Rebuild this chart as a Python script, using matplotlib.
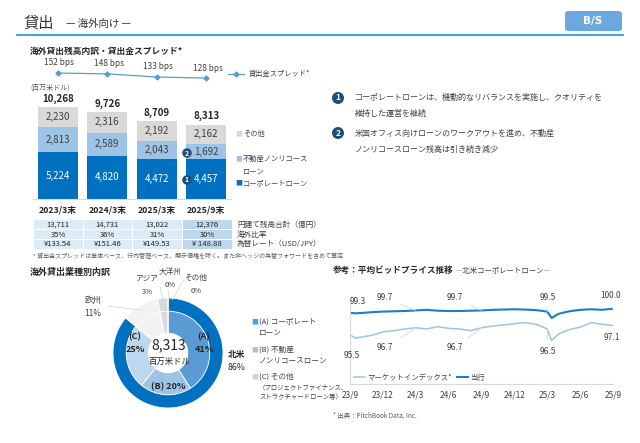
import matplotlib
matplotlib.use('Agg')
import matplotlib.pyplot as plt
from matplotlib.patches import Rectangle, FancyBboxPatch
from matplotlib.lines import Line2D

plt.rcParams['font.family'] = ['Noto Sans CJK JP', 'DejaVu Sans']

W, H = 640, 443

# ---- data: outstanding balance by category (million USD) ----
periods = ['2023/3末', '2024/3末', '2025/3末', '2025/9末']
corporate = [5224, 4820, 4472, 4457]
real_estate = [2813, 2589, 2043, 1692]
other = [2230, 2316, 2192, 2162]
totals = [10268, 9726, 8709, 8313]
spread_bps = [152, 148, 133, 128]

# table rows under the bars
yen_total = ['13,711', '14,731', '13,022', '12,376']
overseas_ratio = ['35%', '36%', '31%', '30%']
fx_rate = ['¥133.54', '¥151.46', '¥149.53', '¥ 148.88']
row_labels = ['円建て残高合計（億円）', '海外比率', '為替レート（USD/JPY）']

# ---- data: donut ----
region_labels = ['北米', '欧州', 'アジア', '大洋州', 'その他']
region_share = [86, 11, 3, 0, 0]
type_labels = ['(A)', '(B)', '(C)']
type_share = [41, 20, 25]

# ---- data: average bid price (months from 2023/9) ----
month_ticks = ['23/9', '23/12', '24/3', '24/6', '24/9', '24/12', '25/3', '25/6', '25/9']
bid_month = [0, 0.5, 1, 2, 3, 4, 5, 6, 7, 8, 9, 10, 11, 12, 13, 14, 15, 16, 17,
             18, 18.4, 19, 20, 21, 22, 23, 24]
bid_bank = [99.3, 99.2, 99.25, 99.4, 99.5, 99.55, 99.6, 99.7, 99.8, 99.65, 99.6,
            99.6, 99.65, 99.7, 99.8, 99.85, 99.9, 99.85, 99.75, 99.5, 98.4, 99.1,
            99.55, 99.8, 99.9, 99.8, 100.0]
bid_market = [95.5, 94.9, 95.1, 95.4, 96.0, 96.2, 96.5, 96.7, 96.5, 96.9, 96.6,
              96.5, 96.2, 96.7, 97.0, 97.2, 97.4, 97.6, 97.3, 96.5, 94.5, 95.6,
              96.4, 96.8, 97.6, 97.3, 97.1]
bank_notes = [(0, '99.3'), (6, '99.7'), (12, '99.7'), (18, '99.5'), (24, '100.0')]
market_notes = [(0, '95.5'), (6, '96.7'), (12, '96.7'), (18, '96.5'), (24, '97.1')]

C_DARK = '#0070C0'
C_MID = '#5B9BD5'
C_LIGHT = '#9DC3E6'
C_PALE = '#BDD7EE'
C_GRAY = '#D9D9D9'
C_TEXT = '#404040'
C_NAVY = '#1F4E79'

fig = plt.figure(figsize=(6.4, 4.43), dpi=100)


def put(x, y, s, **kw):
    kw.setdefault('color', C_TEXT)
    kw.setdefault('va', 'center')
    return fig.text(x / W, 1 - y / H, s, **kw)


def axes_px(left, top, right, bottom):
    return fig.add_axes([left / W, 1 - bottom / H, (right - left) / W, (bottom - top) / H])


def rect_px(x0, y0, x1, y1, **kw):
    fig.add_artist(Rectangle((x0 / W, 1 - y1 / H), (x1 - x0) / W, (y1 - y0) / H,
                             transform=fig.transFigure, **kw))


def badge(x, y, n, size=6):
    put(x, y, n, ha='center', color='white', fontsize=size, fontweight='bold',
        bbox=dict(boxstyle='circle,pad=0.18', fc=C_NAVY, ec='none'))


# ---- header ----
put(24, 23, '貸出', fontsize=11, ha='left', color='#333333')
put(66, 24, '— 海外向け —', fontsize=7.5, ha='left', color='#333333')
fig.add_artist(Line2D([17 / W, 623 / W], [1 - 35 / H, 1 - 35 / H],
                      transform=fig.transFigure, color='#1E8FE1', lw=1.2))
fig.add_artist(FancyBboxPatch((565 / W, 1 - 31 / H), 57 / W, 20 / H,
                              boxstyle='round,pad=0,rounding_size=0.006',
                              transform=fig.transFigure, fc='#6AA8DE', ec='none'))
put(593, 21, 'B/S', ha='center', color='white', fontsize=7.5, fontweight='bold',
    family='DejaVu Sans')

# ---- stacked bars ----
put(30, 51, '海外貸出残高内訳・貸出金スプレッド*', fontsize=6.3, fontweight='bold',
    ha='left', color='#262626')
put(30, 88, '(百万米ドル)', fontsize=5, ha='left', color='#595959')

ax = axes_px(33, 91.5, 231, 199)
x = list(range(len(periods)))
bw = 0.81
ax.bar(x, corporate, bw, color=C_DARK)
ax.bar(x, real_estate, bw, bottom=corporate, color=C_LIGHT)
base2 = [a + b for a, b in zip(corporate, real_estate)]
ax.bar(x, other, bw, bottom=base2, color=C_GRAY)
for i in x:
    ax.text(i, corporate[i] / 2, f'{corporate[i]:,}', ha='center', va='center',
            color='white', fontsize=7)
    ax.text(i, corporate[i] + real_estate[i] / 2, f'{real_estate[i]:,}', ha='center',
            va='center', color=C_TEXT, fontsize=7)
    ax.text(i, base2[i] + other[i] / 2, f'{other[i]:,}', ha='center', va='center',
            color=C_TEXT, fontsize=7)
    ax.text(i, base2[i] + other[i] + 350, f'{totals[i]:,}', ha='center', va='bottom',
            color='#262626', fontsize=7, fontweight='bold')
ax.set_xlim(-0.5, 3.5)
ax.set_ylim(0, 12000)
ax.set_xticks(x)
ax.set_xticklabels(periods, fontsize=6.3, fontweight='bold', color='#262626')
ax.tick_params(axis='x', length=0, pad=5)
ax.set_yticks([])
for s in ['top', 'right', 'left']:
    ax.spines[s].set_visible(False)
ax.spines['bottom'].set_color(C_GRAY)
ax.spines['bottom'].set_linewidth(0.8)
ax.patch.set_alpha(0)

# spread line above the bars
ax2 = axes_px(33, 60, 231, 85)
ax2.plot(x, spread_bps, color=C_MID, lw=0.9, marker='D', ms=2.5)
for i in x:
    ax2.annotate(f'{spread_bps[i]} bps', (i, spread_bps[i]), xytext=(1, 4),
                 textcoords='offset points', ha='center', va='bottom', fontsize=6,
                 color=C_TEXT)
ax2.set_xlim(-0.5, 3.5)
ax2.set_ylim(95, 214)
ax2.axis('off')
fig.add_artist(Line2D([228 / W, 236 / W, 244 / W], [1 - 74 / H] * 3, transform=fig.transFigure,
                      color=C_MID, lw=0.9, marker='D', ms=2.5, markevery=[1]))
put(249, 74, '貸出金スプレッド*', fontsize=5.2, ha='left')

# legend for bars
put(235, 134, '■', fontsize=5, ha='left', color=C_GRAY)
put(243, 134, 'その他', fontsize=5.2, ha='left')
put(235, 159, '■', fontsize=5, ha='left', color=C_LIGHT)
put(243, 159, '不動産ノンリコース', fontsize=5.2, ha='left')
put(243, 172, 'ローン', fontsize=5.2, ha='left')
put(235, 183, '■', fontsize=5, ha='left', color=C_DARK)
put(243, 183, 'コーポレートローン', fontsize=5.2, ha='left')
badge(187, 153, '2', 5)
badge(187, 180, '1', 5)

# table
col_edges = [33, 83, 132, 182, 232]
row_edges = [220, 230, 239.5, 249]
rows = [yen_total, overseas_ratio, fx_rate]
for r, vals in enumerate(rows):
    for c, v in enumerate(vals):
        fc = C_PALE if c == 3 else '#DDEBF7'
        rect_px(col_edges[c] + 0.5, row_edges[r] + 0.5, col_edges[c + 1] - 0.5,
                row_edges[r + 1] - 0.5, fc=fc, ec='none')
        put((col_edges[c] + col_edges[c + 1]) / 2, (row_edges[r] + row_edges[r + 1]) / 2,
            v, ha='center', fontsize=5.5, color='#262626')
    put(237, (row_edges[r] + row_edges[r + 1]) / 2, row_labels[r], fontsize=5.5, ha='left')
put(33, 256, '* 貸出金スプレッドは単体ベース、行内管理ベース、開示債権を除く。また非ヘッジの為替フォワードを含めて算定',
    fontsize=4.3, ha='left', color='#595959')

# ---- right-hand comments ----
badge(338, 98, '1', 6)
put(355, 97, 'コーポレートローンは、機動的なリバランスを実施し、クオリティを', fontsize=5.8, ha='left')
put(355, 113, '維持した運営を継続', fontsize=5.8, ha='left')
badge(338, 133, '2', 6)
put(355, 133, '米国オフィス向けローンのワークアウトを進め、不動産', fontsize=5.8, ha='left')
put(355, 149, 'ノンリコースローン残高は引き続き減少', fontsize=5.8, ha='left')

# ---- donut ----
put(30, 272, '海外貸出業種別内訳', fontsize=6.5, fontweight='bold', ha='left', color='#262626')
axd = axes_px(113, 298, 223, 408)
region_colors = [C_DARK, '#F2F2F2', C_GRAY, '#BFBFBF', '#A6A6A6']
axd.pie(region_share, radius=1.0, startangle=90, counterclock=False,
        colors=region_colors, wedgeprops=dict(width=0.25, edgecolor='white', linewidth=0.6))
inner_vals = type_share + region_share[1:]
inner_colors = [C_MID, C_LIGHT, C_PALE] + region_colors[1:]
axd.pie(inner_vals, radius=0.76, startangle=90, counterclock=False,
        colors=inner_colors, wedgeprops=dict(width=0.40, edgecolor='white', linewidth=0.6))
axd.set_xlim(-1, 1)
axd.set_ylim(-1, 1)

put(204, 337, f'{type_labels[0]}', fontsize=6.5, fontweight='bold', ha='center', color='#262626')
put(204, 349, f'{type_share[0]}%', fontsize=6.5, fontweight='bold', ha='center', color='#262626')
put(168, 387, f'{type_labels[1]} {type_share[1]}%', fontsize=6.5, fontweight='bold', ha='center',
    color='#262626')
put(135, 337, f'{type_labels[2]}', fontsize=6.5, fontweight='bold', ha='center', color='#262626')
put(135, 349, f'{type_share[2]}%', fontsize=6.5, fontweight='bold', ha='center', color='#262626')
put(169, 345, f'{totals[3]:,}', fontsize=10, ha='center', color='#262626')
put(169, 361, '百万米ドル', fontsize=6, ha='center', color='#262626')

put(237, 354, region_labels[0], fontsize=6.3, fontweight='bold', ha='center', color='#262626')
put(237, 368, f'{region_share[0]}%', fontsize=6.3, ha='center', color='#262626')
put(93, 300, region_labels[1], fontsize=6, ha='center')
put(93, 313, f'{region_share[1]}%', fontsize=6, ha='center')
put(147, 279, region_labels[2], fontsize=5.5, ha='center')
put(147, 292, f'{region_share[2]}%', fontsize=5.5, ha='center')
put(170, 272, region_labels[3], fontsize=5.5, ha='center')
put(170, 285, f'{region_share[3]}%', fontsize=5.5, ha='center')
put(196, 278, region_labels[4], fontsize=5.5, ha='center')
put(196, 291, f'{region_share[4]}%', fontsize=5.5, ha='center')
for (x0, y0, x1, y1) in [(108, 306, 140, 310), (160, 287, 163, 300),
                         (168, 290, 169, 298), (184, 280, 172, 300)]:
    fig.add_artist(Line2D([x0 / W, x1 / W], [1 - y0 / H, 1 - y1 / H],
                          transform=fig.transFigure, color=C_GRAY, lw=0.6))

# donut legend
put(251, 322, '■', fontsize=5, ha='left', color=C_MID)
put(259, 322, '(A) コーポレート', fontsize=5.5, ha='left')
put(259, 334, 'ローン', fontsize=5.5, ha='left')
put(251, 350, '■', fontsize=5, ha='left', color=C_LIGHT)
put(259, 350, '(B) 不動産', fontsize=5.5, ha='left')
put(259, 362, 'ノンリコースローン', fontsize=5.5, ha='left')
put(251, 377, '■', fontsize=5, ha='left', color=C_PALE)
put(259, 377, '(C) その他', fontsize=5.5, ha='left')
put(259, 388, '（プロジェクトファイナンス、', fontsize=4.6, ha='left')
put(259, 397, 'ストラクチャードローン等）', fontsize=4.6, ha='left')

# ---- bid price line chart ----
put(333, 270, '参考：平均ビッドプライス推移', fontsize=6.2, fontweight='bold', ha='left',
    color='#262626')
put(455, 271, '―北米コーポレートローン―', fontsize=5.3, ha='left')

axl = axes_px(350, 300, 613, 384)
axl.plot(bid_month, bid_market, color=C_LIGHT, lw=1.1, label='マーケットインデックス*')
axl.plot(bid_month, bid_bank, color='#1A7FCB', lw=1.5, label='当行')
axl.set_xlim(0, 24)
axl.set_ylim(87, 101.5)
axl.set_xticks(range(0, 25, 3))
axl.set_xticklabels(month_ticks, fontsize=6, color=C_TEXT)
axl.tick_params(axis='x', length=0, pad=5)
axl.set_yticks([])
for s in ['top', 'right']:
    axl.spines[s].set_visible(False)
for s in ['left', 'bottom']:
    axl.spines[s].set_color(C_GRAY)
    axl.spines[s].set_linewidth(0.8)

bank_text_px = [(358, 301), (385, 298), (455, 298), (548, 298), (610, 296)]
market_text_px = [(352, 355), (385, 348), (455, 348), (548, 352), (612, 337)]
for (m, lab), (tx, ty) in zip(bank_notes, bank_text_px):
    v = bid_bank[bid_month.index(m)]
    axl.annotate(lab, (m, v), xytext=(tx, H - ty), textcoords='figure pixels',
                 ha='center', va='center', fontsize=6, color=C_TEXT, annotation_clip=False,
                 arrowprops=dict(arrowstyle='-', color=C_GRAY, lw=0.6, shrinkA=3, shrinkB=0))
for (m, lab), (tx, ty) in zip(market_notes, market_text_px):
    v = bid_market[bid_month.index(m)]
    axl.annotate(lab, (m, v), xytext=(tx, H - ty), textcoords='figure pixels',
                 ha='center', va='center', fontsize=6, color=C_TEXT, annotation_clip=False,
                 arrowprops=dict(arrowstyle='-', color=C_GRAY, lw=0.6, shrinkA=3, shrinkB=0))
leg = axl.legend(loc='lower left', ncol=2, frameon=False, fontsize=5.3, handlelength=1.6,
                 handletextpad=0.3, columnspacing=0.6, borderaxespad=0.1,
                 bbox_to_anchor=(0.0, -0.02))
for t in leg.get_texts():
    t.set_color(C_TEXT)

put(333, 416, '* 出典：PitchBook Data, Inc.', fontsize=4.6, ha='left', color='#595959')

fig.savefig('out.png', dpi=100)
